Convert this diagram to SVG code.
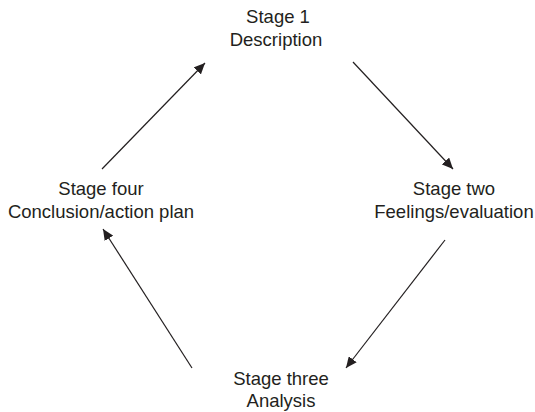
<svg xmlns="http://www.w3.org/2000/svg" width="535" height="412" viewBox="0 0 535 412">
<style>
text { font-family: "Liberation Sans", Arial, sans-serif; font-size: 18.5px; fill: #231f20; text-anchor: middle; }
.conn line { stroke: #231f20; stroke-width: 1.2; marker-end: url(#ah); }
</style>
<defs>
<marker id="ah" viewBox="0 0 11 10" refX="11" refY="5" markerWidth="11" markerHeight="10" markerUnits="userSpaceOnUse" orient="auto">
<path d="M0,0 L11,5 L0,10 Z" fill="#231f20"/>
</marker>
</defs>
<rect width="535" height="412" fill="#ffffff"/>
<g id="stage1">
<text x="278" y="23">Stage 1</text>
<text x="276" y="46">Description</text>
</g>
<g id="stage2">
<text x="454" y="195">Stage two</text>
<text x="454" y="218">Feelings/evaluation</text>
</g>
<g id="stage3">
<text x="281" y="385">Stage three</text>
<text x="281" y="407">Analysis</text>
</g>
<g id="stage4">
<text x="101" y="195">Stage four</text>
<text x="101" y="218">Conclusion/action plan</text>
</g>
<g id="connectors" class="conn">
<line x1="353" y1="62" x2="453" y2="169"/>
<line x1="445" y1="240" x2="346" y2="368"/>
<line x1="192" y1="368" x2="103" y2="229"/>
<line x1="102" y1="169" x2="205" y2="63"/>
</g>
</svg>
